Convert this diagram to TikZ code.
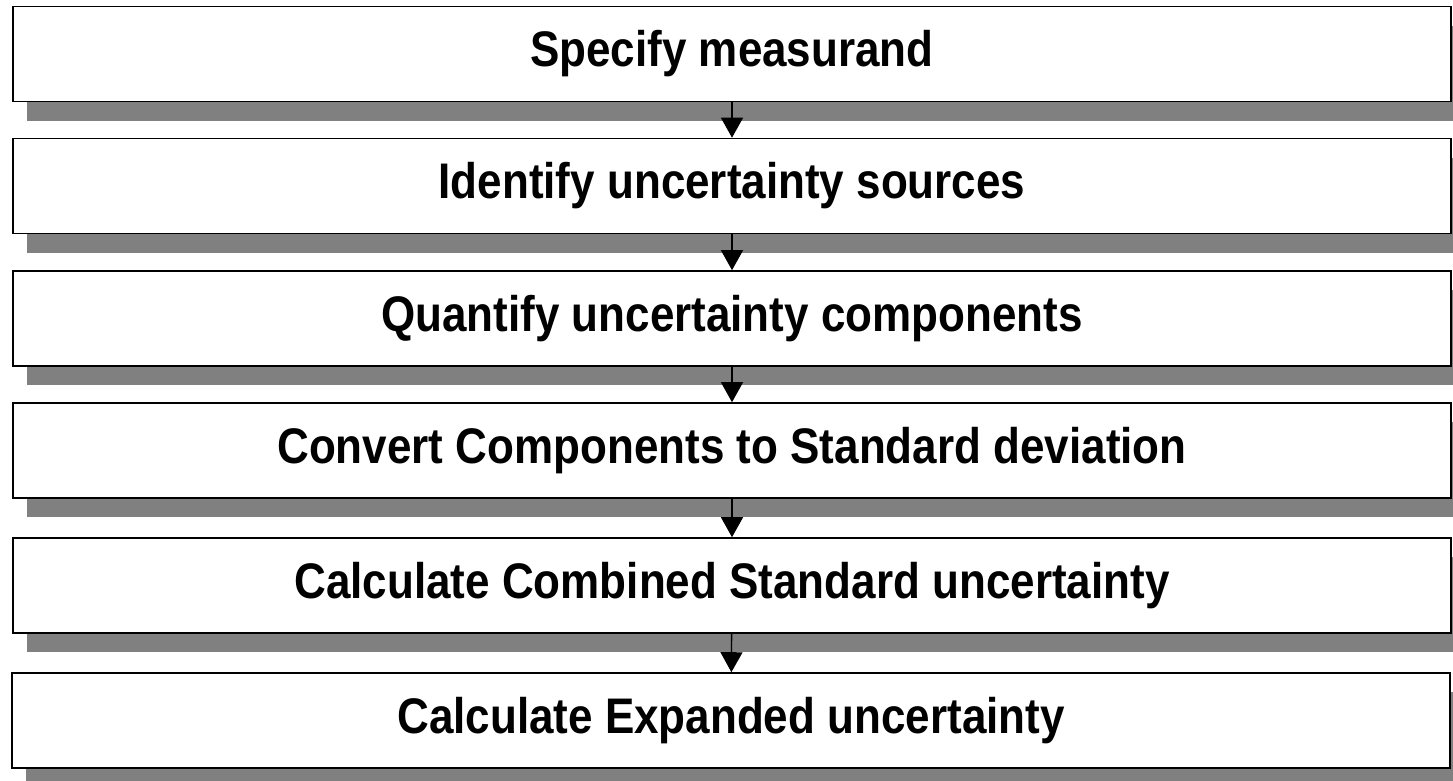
\documentclass[tikz,border=0pt]{standalone}
\usepackage{fontspec}
\setmainfont{Liberation Sans}[FakeStretch=0.88]
\usepackage{tikz}
\usetikzlibrary{arrows.meta,shadows}

\tikzset{
  stage/.style={draw=black, line width=1.6pt, fill=white,
    minimum width=1438pt, minimum height=95pt, inner sep=0pt,
    font=\fontsize{50}{58}\selectfont\bfseries,
    drop shadow={shadow xshift=14pt, shadow yshift=-19pt,
      fill=black!50, opacity=1}},
}

\begin{document}
\begin{tikzpicture}[x=1pt,y=-1pt]
		\useasboundingbox (0,0) rectangle (1453,780);
		\node[stage] (S1) at (732,54) {Specify measurand};
		\node[stage] (S2) at (732,186) {Identify uncertainty sources};
		\node[stage] (S3) at (732,318.5) {Quantify uncertainty components};
		\node[stage] (S4) at (732,450.5) {Convert Components to Standard deviation};
		\node[stage] (S5) at (732,585.5) {Calculate Combined Standard uncertainty};
		\node[stage] (S6) at (731,720.5) {Calculate Expanded uncertainty};
		%
		\path[-{Triangle[length=20pt,width=22pt]},line width=1.3pt]
		(S1) edge (S2)
		(S2) edge (S3)
		(S3) edge (S4)
		(S4) edge (S5)
		(S5) edge (S6);
\end{tikzpicture}
\end{document}
